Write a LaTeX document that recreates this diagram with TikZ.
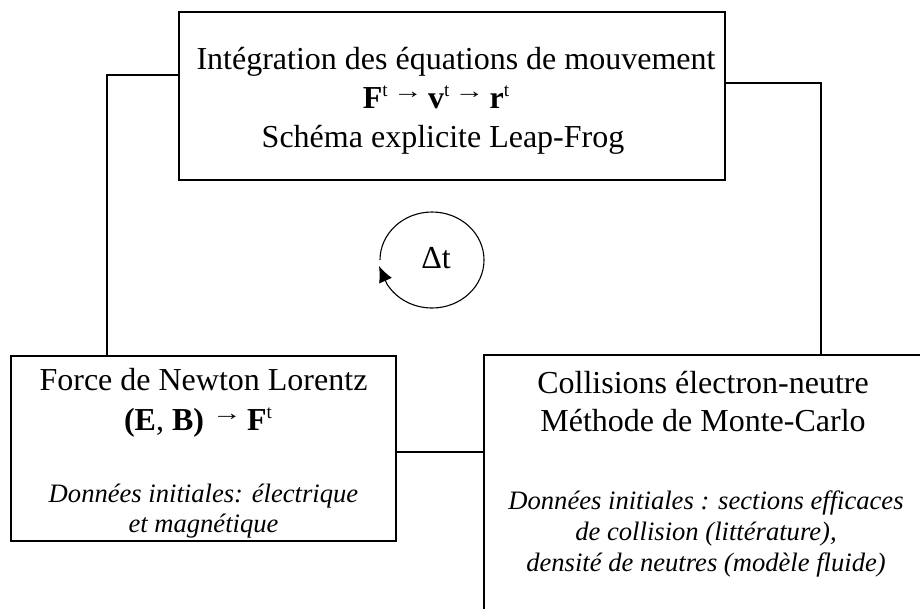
\documentclass[tikz,border=0pt]{standalone}
\usepackage{fontspec}
\setmainfont{Liberation Serif}
\usetikzlibrary{arrows.meta}
\newcommand\mysupt{\raisebox{0.36em}{\fontsize{19}{19}\selectfont\mdseries t}}
\newcommand\myarr{\raisebox{0.30em}{\fontsize{22}{22}\selectfont\mdseries\scalebox{1.35}[1]{→}}}
\begin{document}
\begin{tikzpicture}[x=1pt,y=-1pt,
  box/.style={draw=black,line width=1.2pt,inner sep=0pt,outer sep=0pt,rectangle},
  conn/.style={draw=black,line width=1.2pt},
  big/.style={anchor=base,inner sep=0pt,font=\fontsize{32}{36}\selectfont},
  ital/.style={anchor=base,inner sep=0pt,font=\fontsize{26.6}{30}\selectfont\itshape}]
\useasboundingbox (0,0) rectangle (920,608);
\begin{scope}
\clip (0,0) rectangle (920,608);
% boxes
\node[box,minimum width=546pt,minimum height=168pt] (top) at (452,96) {};
\node[box,minimum width=385pt,minimum height=185pt] (lbox) at (203.5,448.5) {};
\node[box,minimum width=476pt,minimum height=290pt] (rbox) at (722,500) {};
% top box text
\node[big] (t1) at (456,69) {Intégration des équations de mouvement};
\node[big] (t2) at (436,108) {\textbf{F}\mysupt\,\myarr\,\textbf{v}\mysupt\,\myarr\,\textbf{r}\mysupt};
\node[big] (t3) at (443,147) {Schéma explicite Leap-Frog};
% left box text
\node[big] (l1) at (203.5,390) {Force de Newton Lorentz};
\node[big] (l2) at (198,430) {\textbf{(E}, \textbf{B)} \myarr\,\textbf{F}\mysupt};
\node[ital] (l3) at (203.5,502) {Données initiales: électrique};
\node[ital] (l4) at (203.5,532) {et magnétique};
% right box text
\node[big] (r1) at (703,393) {Collisions électron-neutre};
\node[big] (r2) at (703,431) {Méthode de Monte-Carlo};
\node[ital] (r3) at (706,509) {Données initiales : sections efficaces};
\node[ital] (r4) at (706,540) {de collision (littérature),};
\node[ital] (r5) at (706,571) {densité de neutres (modèle fluide)};
% connectors
\coordinate (c1) at (107,75);
\coordinate (c2) at (821,83);
\coordinate (c3) at (440,452);
\draw[conn] (top.west |- c1) -- (c1) -- (c1 |- lbox.north);
\draw[conn] (top.east |- c2) -- (c2) -- (c2 |- rbox.north);
\draw[conn] (lbox.east |- c3) -- (rbox.west |- c3);
% loop
\coordinate (cc) at (432,260);
\coordinate (tip) at (379,266);
\node[anchor=base,inner sep=0pt,font=\fontsize{32}{36}\selectfont] (dt) at (436,268) {Δt};
\draw[line width=1.1pt,-{Latex[length=16pt,width=14pt]}] ([shift={(-180:52 and 48)}]cc) arc[start angle=-180,end angle=150,x radius=52,y radius=48] -- (tip);
\end{scope}
\end{tikzpicture}
\end{document}
